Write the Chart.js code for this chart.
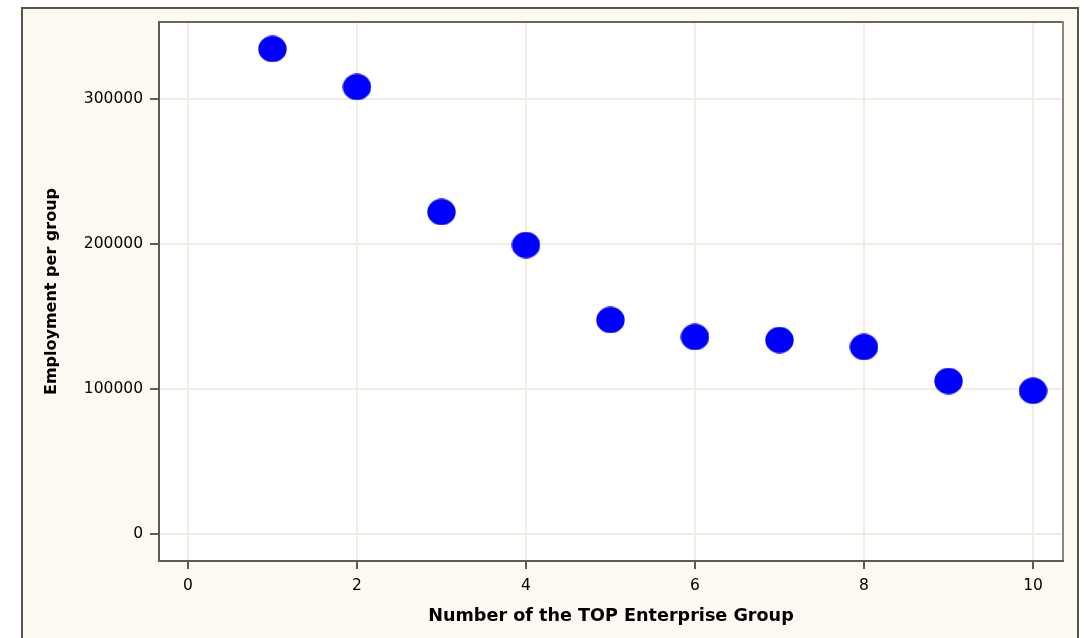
<!DOCTYPE html>
<html>
<head>
<meta charset="utf-8">
<script src="https://cdn.jsdelivr.net/npm/chart.js@4/dist/chart.umd.min.js"></script>
<style>
  html, body { margin: 0; padding: 0; background: #ffffff; }
  canvas { display: block; }
</style>
</head>
<body>
<canvas id="c" width="1089" height="638"></canvas>
<script>
// ---- data ----
const groupRank = [1, 2, 3, 4, 5, 6, 7, 8, 9, 10];
const employment = [334500, 308300, 222100, 199300, 147600, 135900, 133800, 129000, 105500, 98800];
const xTickValues = [0, 2, 4, 6, 8, 10];
const yTickValues = [0, 100000, 200000, 300000];
const xTitle = 'Number of the TOP Enterprise Group';
const yTitle = 'Employment per group';

// ellipse marker
function makeMarker(w, h, color) {
  const c = document.createElement('canvas');
  c.width = w; c.height = h;
  const g = c.getContext('2d');
  g.fillStyle = color;
  g.beginPath();
  g.ellipse(w / 2, h / 2, w / 2 - 0.3, h / 2 - 0.3, 0, 0, Math.PI * 2);
  g.fill();
  return c;
}
const marker = makeMarker(29, 27, '#0000ff');

const points = groupRank.map((x, i) => ({ x: x, y: employment[i] }));

const framePlugin = {
  id: 'frame',
  beforeDraw(chart) {
    const ctx = chart.ctx;
    const a = chart.chartArea;
    ctx.save();
    ctx.fillStyle = '#ffffff';
    ctx.fillRect(0, 0, chart.width, chart.height);
    ctx.fillStyle = '#fcf9f2';
    ctx.fillRect(22, 8, 1056, chart.height);
    ctx.strokeStyle = '#59544a';
    ctx.lineWidth = 2;
    ctx.beginPath();
    ctx.moveTo(22, chart.height + 2);
    ctx.lineTo(22, 8);
    ctx.lineTo(1078, 8);
    ctx.lineTo(1078, chart.height + 2);
    ctx.stroke();
    ctx.fillStyle = '#ffffff';
    ctx.fillRect(a.left, a.top, a.right - a.left, a.bottom - a.top);
    ctx.restore();
  },
  beforeDatasetsDraw(chart) {
    const ctx = chart.ctx;
    const a = chart.chartArea;
    ctx.save();
    ctx.lineWidth = 2;
    ctx.strokeStyle = '#6a665a';
    ctx.beginPath();
    ctx.moveTo(a.left, a.top);
    ctx.lineTo(a.right, a.top);
    ctx.stroke();
    ctx.strokeStyle = '#8a877c';
    ctx.beginPath();
    ctx.moveTo(a.right, a.top - 1);
    ctx.lineTo(a.right, a.bottom + 1);
    ctx.stroke();
    ctx.strokeStyle = '#5f5b4f';
    ctx.beginPath();
    ctx.moveTo(a.left, a.top - 1);
    ctx.lineTo(a.left, a.bottom);
    ctx.lineTo(a.right + 1, a.bottom);
    ctx.stroke();
    ctx.restore();
  }
};

new Chart(document.getElementById('c'), {
  type: 'scatter',
  data: {
    datasets: [{
      data: points,
      pointStyle: marker,
      pointRadius: 14,
      pointHoverRadius: 14,
      backgroundColor: '#0000ff',
      borderColor: '#0000ff'
    }]
  },
  options: {
    responsive: false,
    devicePixelRatio: 1,
    animation: false,
    events: [],
    layout: { padding: { left: 0, top: 22, right: 26, bottom: 0 } },
    plugins: { legend: { display: false }, tooltip: { enabled: false } },
    scales: {
      x: {
        type: 'linear',
        min: -0.343,
        max: 10.355,
        afterFit(s) { s.height = 77; },
        afterBuildTicks(s) { s.ticks = xTickValues.map(v => ({ value: v })); },
        ticks: {
          includeBounds: false,
          font: { family: 'DejaVu Sans', size: 15.5 },
          color: '#000000',
          padding: 8,
          maxRotation: 0,
          callback: v => String(v)
        },
        grid: { color: '#f0eee2', lineWidth: 2, tickColor: '#5f5b4f', tickLength: 8, tickWidth: 2 },
        border: { display: false },
        title: {
          display: true,
          text: xTitle,
          color: '#000000',
          font: { family: 'DejaVu Sans', size: 17.6, weight: 'bold' },
          padding: { top: 0, bottom: 11.5 }
        }
      },
      y: {
        type: 'linear',
        min: -18600,
        max: 353100,
        afterFit(s) { s.width = 159; },
        afterBuildTicks(s) { s.ticks = yTickValues.map(v => ({ value: v })); },
        ticks: {
          includeBounds: false,
          font: { family: 'DejaVu Sans', size: 15.5 },
          color: '#000000',
          padding: 7,
          callback: v => String(v)
        },
        grid: { color: '#f0eee2', lineWidth: 2, tickColor: '#5f5b4f', tickLength: 9, tickWidth: 2 },
        border: { display: false },
        title: {
          display: true,
          text: yTitle,
          color: '#000000',
          font: { family: 'DejaVu Sans', size: 16, weight: 'bold' },
          padding: { top: 42, bottom: 0 }
        }
      }
    }
  },
  plugins: [framePlugin]
});
</script>
</body>
</html>
